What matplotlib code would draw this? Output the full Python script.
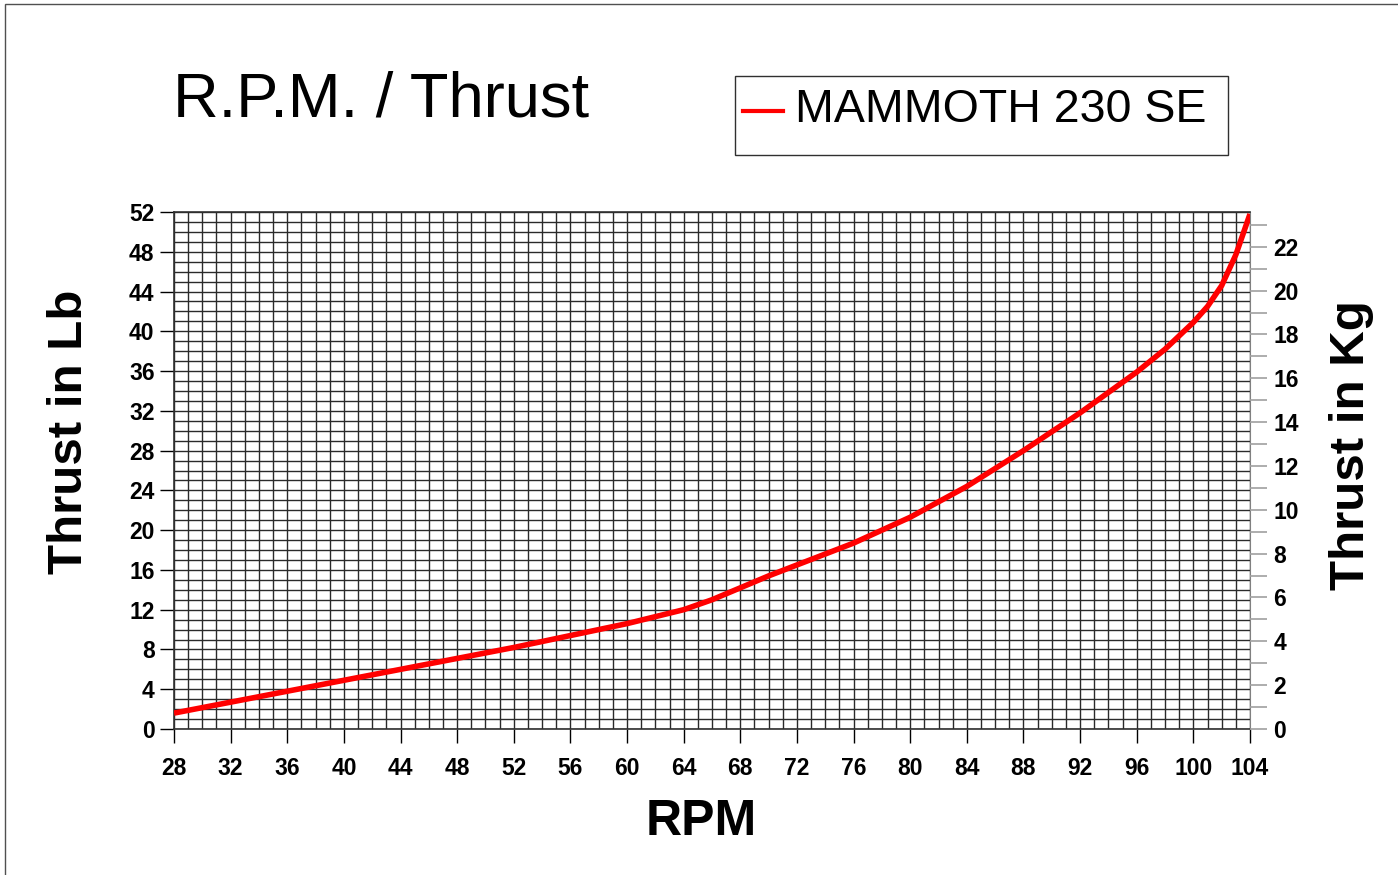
import numpy as np
import matplotlib.pyplot as plt
from matplotlib.patches import Rectangle
from matplotlib.lines import Line2D

plt.rcParams['font.family'] = ['Liberation Sans', 'DejaVu Sans']

# RPM vs thrust (lb)
rpm = [28, 32, 36, 40, 44, 48, 52, 56, 60, 64, 66, 68, 70, 72, 76, 80, 84, 88,
       92, 96, 98, 100, 101, 102, 103, 104]
thrust_lb = [1.6, 2.7, 3.8, 4.9, 6.0, 7.1, 8.2, 9.4, 10.6, 12.0, 13.0, 14.2, 15.4,
             16.5, 18.7, 21.3, 24.4, 28.0, 31.8, 35.9, 38.2, 40.9, 42.5, 44.6, 47.7, 51.8]
series_name = "MAMMOTH 230 SE"
x_ticks = list(range(28, 105, 4))
lb_ticks = list(range(0, 53, 4))
kg_ticks = list(range(0, 23, 2))
LB_PER_KG = 2.20462

W, H = 1398, 875
fig = plt.figure(figsize=(W / 100, H / 100), dpi=100)
ax = fig.add_axes([174 / W, 1 - 729 / H, (1250 - 174) / W, (729 - 212) / H])

# fine graph-paper grid
ax.set_xlim(28, 104)
ax.set_ylim(0, 52)
ax.set_xticks(x_ticks)
ax.set_yticks(lb_ticks)
ax.set_xticks(np.arange(28, 105, 1), minor=True)
ax.set_yticks(np.arange(0, 53, 1), minor=True)
ax.grid(which='both', color='#2a2a2a', linewidth=1.0)
ax.set_axisbelow(True)
ax.tick_params(axis='x', which='major', direction='out', length=10, width=1, color='black', pad=10)
ax.tick_params(axis='y', which='major', direction='out', length=10, width=1, color='black', pad=4)
ax.tick_params(which='minor', length=0)
for lab in ax.get_xticklabels() + ax.get_yticklabels():
    lab.set_fontsize(16.5)
    lab.set_fontweight('bold')
for s in ['left', 'bottom', 'top']:
    ax.spines[s].set_color('#303030')
    ax.spines[s].set_linewidth(1.2)
ax.spines['right'].set_color('#808080')

ax.plot(rpm, thrust_lb, color='#ff0000', linewidth=4, solid_capstyle='butt', zorder=5)

# kg axis on the right
ax2 = ax.twinx()
ax2.set_ylim(0, 52 / LB_PER_KG)
ax2.set_yticks(kg_ticks)
ax2.set_yticks(np.arange(0, 24, 1), minor=True)
ax2.tick_params(axis='y', which='both', direction='out', length=12, width=1.2, color='#a0a0a0', pad=5)
for lab in ax2.get_yticklabels():
    lab.set_fontsize(16.5)
    lab.set_fontweight('bold')
for s in ax2.spines.values():
    s.set_visible(False)

# axis titles
fig.text(701 / W, 1 - 822 / H, "RPM", fontsize=36, fontweight='bold', ha='center', va='center')
fig.text(70 / W, 1 - 432 / H, "Thrust in Lb", fontsize=35.5, fontweight='bold',
         rotation=90, ha='center', va='center')
fig.text(1352 / W, 1 - 445 / H, "Thrust in Kg", fontsize=35.5, fontweight='bold',
         rotation=90, ha='center', va='center')

# title
fig.text(173 / W, 1 - 100 / H, "R.P.M. / Thrust", fontsize=45.5, ha='left', va='center')

# legend box
fig.patches.append(Rectangle((735 / W, 1 - 155 / H), (1228 - 735) / W, (155 - 76) / H,
                             transform=fig.transFigure, fill=False, edgecolor='#303030', linewidth=1))
fig.lines.append(Line2D([743 / W, 783 / W], [1 - 111 / H, 1 - 111 / H], transform=fig.transFigure,
                        color='#ff0000', linewidth=3))
fig.text(795 / W, 1 - 110 / H, series_name, fontsize=33.5, ha='left', va='center')

# outer frame
fig.patches.append(Rectangle((5 / W, -0.02), 1.1, 1.02 - 4 / H, transform=fig.transFigure,
                             fill=False, edgecolor='#505050', linewidth=1))

fig.savefig("out.png", dpi=100)
